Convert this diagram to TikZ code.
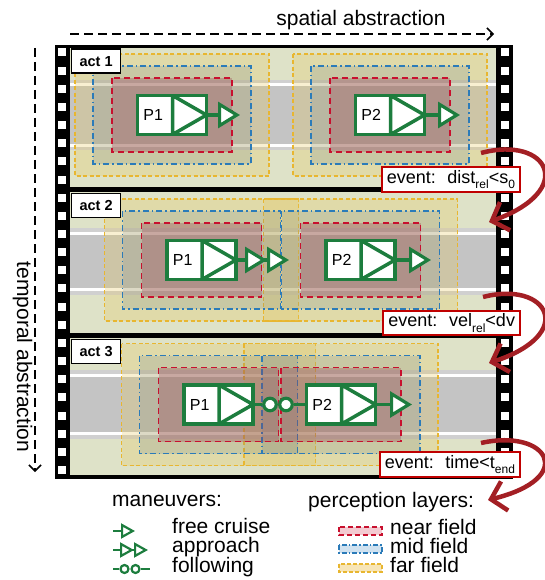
\documentclass[tikz,border=0pt]{standalone}
\usepackage{fontspec}
\setmainfont{Liberation Sans}
\usetikzlibrary{arrows.meta}
\definecolor{vgreen}{HTML}{1D7D3E}
\definecolor{nearred}{HTML}{C8102E}
\definecolor{nearfill}{HTML}{9A3A50}
\definecolor{midblue}{HTML}{2B7BB9}
\definecolor{midfill}{HTML}{607890}
\definecolor{faryellow}{HTML}{E8B630}
\definecolor{farfill}{HTML}{E6C85A}
\definecolor{evred}{HTML}{A31F24}
\definecolor{evbox}{HTML}{C00000}
\definecolor{framebg}{HTML}{DEE2C8}
\definecolor{roadgray}{HTML}{C4C4C4}
\definecolor{shoulder}{HTML}{D0D0D0}
\newcommand\evsub[1]{\raisebox{-0.3em}{\fontsize{12}{12}\selectfont #1}}
\tikzset{
  axisarrow/.style={line width=1.5pt,dash pattern=on 9pt off 5pt,-{Straight Barb[length=6pt,width=12pt]}},
  roadline/.style={draw=white,line width=3pt},
  farlayer/.style={draw=faryellow,line width=1.5pt,dash pattern=on 4pt off 2.5pt,fill=farfill,fill opacity=0.28},
  midlayer/.style={draw=midblue,line width=1.5pt,dash pattern=on 6pt off 3pt on 1.5pt off 3pt,fill=midfill,fill opacity=0.18},
  nearlayer/.style={draw=nearred,line width=1.6pt,dash pattern=on 6pt off 4pt,fill=nearfill,fill opacity=0.3},
  vehicle/.style={draw=vgreen,line width=3.5pt,fill=white,minimum width=69pt,minimum height=39pt,inner sep=0pt,
    path picture={\draw[vgreen,line width=3.5pt] ([xshift=35pt]path picture bounding box.north west) -- ([xshift=35pt]path picture bounding box.south west) -- (path picture bounding box.east) -- cycle;}},
  vlabel/.style={inner sep=0pt,font=\fontsize{16}{19}\selectfont},
  man/.style={draw=vgreen,line width=3.2pt},
  cruise/.style={man,-{Triangle[length=22pt,width=26pt,fill=white]}},
  approach/.style={man,-{Triangle[length=22pt,width=26pt,fill=white]Triangle[length=22pt,width=26pt,fill=white]}},
  follow/.style={circle,draw=vgreen,line width=3.2pt,fill=white,minimum size=12.5pt,inner sep=0pt},
  actlabel/.style={draw,line width=1.2pt,fill=white,anchor=north west,minimum width=49pt,minimum height=24pt,inner sep=0pt,font=\fontsize{14.5}{17}\selectfont\bfseries},
  event/.style={draw=evbox,line width=2pt,fill=white,anchor=east,inner xsep=5pt,inner ysep=3pt,font=\fontsize{18}{21}\selectfont},
  evarrow/.style={draw=evred,line width=4.5pt,-{Straight Barb[length=14pt,width=30pt]}},
  legtext/.style={anchor=base west,inner sep=0pt,font=\fontsize{21}{25}\selectfont},
  lman/.style={draw=vgreen,line width=2.2pt},
  lcruise/.style={lman,-{Triangle[length=14pt,width=15pt,fill=white]}},
  lapproach/.style={lman,-{Triangle[length=14pt,width=15pt,fill=white]Triangle[length=14pt,width=15pt,fill=white]}},
  lfollow/.style={circle,draw=vgreen,line width=2.2pt,fill=white,minimum size=8pt,inner sep=0pt},
  legnear/.style={draw=nearred,line width=1.5pt,dash pattern=on 5pt off 3pt,fill=nearred!22},
  legmid/.style={draw=midblue,line width=1.5pt,dash pattern=on 5pt off 2pt on 1.5pt off 2pt,fill=midblue!22},
  legfar/.style={draw=faryellow,line width=1.5pt,dash pattern=on 4pt off 2pt,fill=faryellow!35}
}
\begin{document}
\begin{tikzpicture}[x=1pt,y=-1pt]
\path[use as bounding box] (0,0) rectangle (545,580);
\node[anchor=base,inner sep=0pt,font=\fontsize{21}{25}\selectfont] (spatial) at (361,26) {spatial abstraction};
\coordinate (sp1) at (70,34);
\coordinate (sp2) at (494,34);
\draw[axisarrow] (sp1) -- (sp2);
\node[anchor=base,rotate=-90,inner sep=0pt,font=\fontsize{21}{25}\selectfont] (temporal) at (17,357) {temporal abstraction};
\coordinate (tp1) at (35,48);
\coordinate (tp2) at (35,472);
\draw[axisarrow] (tp1) -- (tp2);
\fill[black] (55,45) rectangle (513,479);
\foreach \k in {0,...,23}{
  \fill[white] (58,{48.5+18.15*\k}) rectangle (66,{56.5+18.15*\k});
  \fill[white] (501,{48.5+18.15*\k}) rectangle (509,{56.5+18.15*\k});
}
\fill[framebg] (70,48) rectangle (496,187);
\fill[framebg] (70,192) rectangle (496,333);
\fill[framebg] (70,338) rectangle (496,475);
\fill[shoulder] (70,80) rectangle (496,150);
\fill[roadgray] (70,86) rectangle (496,144);
\draw[roadline] (70,84.5) -- (496,84.5);
\draw[roadline] (70,145.5) -- (496,145.5);
\fill[shoulder] (70,228) rectangle (496,295);
\fill[roadgray] (70,235) rectangle (496,288);
\draw[roadline] (70,233.5) -- (496,233.5);
\draw[roadline] (70,289.5) -- (496,289.5);
\fill[shoulder] (70,370) rectangle (496,439);
\fill[roadgray] (70,377) rectangle (496,432);
\draw[roadline] (70,375.5) -- (496,375.5);
\draw[roadline] (70,433.5) -- (496,433.5);
\path[farlayer] (75,54) rectangle (269,176);
\path[farlayer] (293,54) rectangle (487,176);
\path[midlayer] (93,66) rectangle (251,164);
\path[midlayer] (311,66) rectangle (469,164);
\path[nearlayer] (112,78) rectangle (232,152);
\path[nearlayer] (330,78) rectangle (450,152);
\path[farlayer] (104.5,199) rectangle (298.5,321);
\path[farlayer] (263.5,199) rectangle (457.5,321);
\path[midlayer] (122.5,211) rectangle (280.5,309);
\path[midlayer] (281.5,211) rectangle (439.5,309);
\path[nearlayer] (141.5,223) rectangle (261.5,297);
\path[nearlayer] (300.5,223) rectangle (420.5,297);
\path[farlayer] (121.5,343.5) rectangle (315.5,465.5);
\path[farlayer] (244,343.5) rectangle (438,465.5);
\path[midlayer] (139.5,355.5) rectangle (297.5,453.5);
\path[midlayer] (262,355.5) rectangle (420,453.5);
\path[nearlayer] (158.5,367.5) rectangle (278.5,441.5);
\path[nearlayer] (281,367.5) rectangle (401,441.5);
\node[vehicle] (a1p1) at (172,115) {};
\node[vlabel] (a1p1l) at ([xshift=17.5pt]a1p1.west) {P1};
\node[vehicle] (a1p2) at (390,115) {};
\node[vlabel] (a1p2l) at ([xshift=17.5pt]a1p2.west) {P2};
\coordinate (a1p1e) at (240,115);
\coordinate (a1p2e) at (460,115);
\draw[cruise] (a1p1.east) -- (a1p1e);
\draw[cruise] (a1p2.east) -- (a1p2e);
\node[vehicle] (a2p1) at (201.5,260) {};
\node[vlabel] (a2p1l) at ([xshift=17.5pt]a2p1.west) {P1};
\node[vehicle] (a2p2) at (360.5,260) {};
\node[vlabel] (a2p2l) at ([xshift=17.5pt]a2p2.west) {P2};
\coordinate (a2p1e) at (289,260);
\coordinate (a2p2e) at (431,260);
\draw[approach] (a2p1.east) -- (a2p1e);
\draw[cruise] (a2p2.east) -- (a2p2e);
\node[vehicle] (a3p1) at (218.5,404.5) {};
\node[vlabel] (a3p1l) at ([xshift=17.5pt]a3p1.west) {P1};
\node[vehicle] (a3p2) at (341,404.5) {};
\node[vlabel] (a3p2l) at ([xshift=17.5pt]a3p2.west) {P2};
\node[follow] (a3c1) at (270,404.5) {};
\node[follow] (a3c2) at (286,404.5) {};
\coordinate (a3p2e) at (412,404.5);
\draw[man] (a3p1.east) -- (a3c1);
\draw[man] (a3c2) -- (a3p2.west);
\draw[cruise] (a3p2.east) -- (a3p2e);
\node[actlabel] (act1) at (71,48.5) {act 1};
\node[actlabel] (act2) at (71,193) {act 2};
\node[actlabel] (act3) at (71,339) {act 3};
\node[event] (ev1) at (521,179.5) {event:~ dist\evsub{rel}<s\evsub{0}};
\node[event] (ev2) at (521,323) {event:~ vel\evsub{rel}<dv};
\node[event] (ev3) at (521,464.5) {event:~ time<t\evsub{end}};
\coordinate (ev1s) at (481,153);
\coordinate (ev1e) at (489,222);
\coordinate (ev2s) at (483,297);
\coordinate (ev2e) at (489,363);
\coordinate (ev3s) at (481,443);
\coordinate (ev3e) at (488,500);
\draw[evarrow] (ev1s) .. controls (548,135) and (578,190) .. (ev1e);
\draw[evarrow] (ev2s) .. controls (548,280) and (578,334) .. (ev2e);
\draw[evarrow] (ev3s) .. controls (548,428) and (578,478) .. (ev3e);
\node[legtext] (legman) at (112,506) {maneuvers:};
\node[legtext] (legfree) at (172,533) {free cruise};
\node[legtext] (legappr) at (172,552) {approach};
\node[legtext] (legfoll) at (172,572) {following};
\coordinate (lfc1) at (113,531);
\coordinate (lfc2) at (135,531);
\draw[lcruise] (lfc1) -- (lfc2);
\coordinate (lap1) at (113,550);
\coordinate (lap2) at (148,550);
\draw[lapproach] (lap1) -- (lap2);
\node[lfollow] (lfo1) at (124.5,569) {};
\node[lfollow] (lfo2) at (135.5,569) {};
\coordinate (lfoa) at (113,569);
\coordinate (lfob) at (150,569);
\draw[lman] (lfoa) -- (lfo1);
\draw[lman] (lfo2) -- (lfob);
\node[legtext] (legper) at (308,507) {perception layers:};
\node[legtext] (legnearl) at (390,534) {near field};
\node[legtext] (legmidl) at (390,553) {mid field};
\node[legtext] (legfarl) at (390,572) {far field};
\path[legnear] (339,527) rectangle (382,535);
\path[legmid] (339,545) rectangle (382,553);
\path[legfar] (339,564) rectangle (382,572);
\end{tikzpicture}
\end{document}
